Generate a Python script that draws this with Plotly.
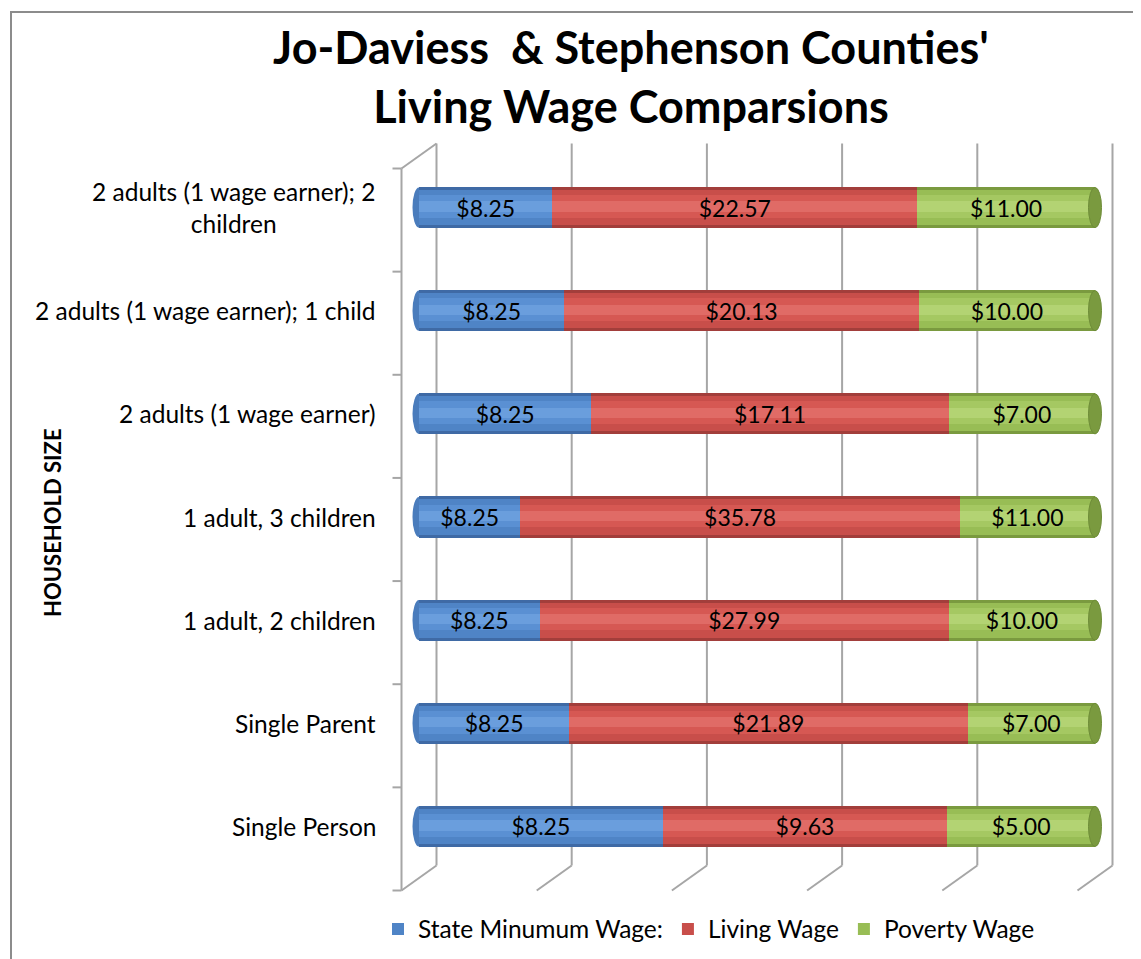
import plotly.graph_objects as go

# ---- data ----
categories = [
    "Single Person",
    "Single Parent",
    "1 adult, 2 children",
    "1 adult, 3 children",
    "2 adults (1 wage earner)",
    "2 adults (1 wage earner); 1 child",
    "2 adults (1 wage earner); 2 children",
]
category_labels = [
    "Single Person",
    "Single Parent",
    "1 adult, 2 children",
    "1 adult, 3 children",
    "2 adults (1 wage earner)",
    "2 adults (1 wage earner); 1 child",
    "2 adults (1 wage earner); 2<br>children",
]
state_min_wage = [8.25, 8.25, 8.25, 8.25, 8.25, 8.25, 8.25]
living_wage = [9.63, 21.89, 27.99, 35.78, 17.11, 20.13, 22.57]
poverty_wage = [5.00, 7.00, 10.00, 11.00, 7.00, 10.00, 11.00]
series_names = ["State Minumum Wage:", "Living Wage", "Poverty Wage"]
x_ticks = [0, 20, 40, 60, 80, 100]

# ---- styling ----
W, H = 1141, 959
OFF = 8  # page body margin
L = 419 - OFF
T = 156 - OFF
R = W - (1095 - OFF)
B = H - (878 - OFF)
PW, PH = W - L - R, H - T - B
FONT = "Lato, Carlito, Calibri, 'Open Sans', sans-serif"
shade_sets = [
    ["#3F6AA5", "#A23E3B", "#7A9A3F"],   # edge
    ["#4F84C6", "#C84E4A", "#98BD55"],   # body
    ["#5A90D3", "#D65853", "#A5C862"],   # light
    ["#6A9EDD", "#E06B66", "#B3D373"],   # highlight
]
layer_geom = [(0.40, -0.20, False), (0.34, -0.17, True), (0.22, -0.10, False), (0.10, -0.04, False)]
cap_right_color = "#7A9A3F"
cap_left_color = "#4A7CBC"
grid_color = "#A6A6A6"

series = [state_min_wage, living_wage, poverty_wage]

fig = go.Figure()

axes_names = ["y", "y2", "y3", "y4"]
for ax, cols, (wd, off, leg) in zip(axes_names, shade_sets, layer_geom):
    for name, vals, col in zip(series_names, series, cols):
        fig.add_trace(go.Bar(
            y=categories, x=vals, orientation="h", name=name,
            marker=dict(color=col, line=dict(width=0)),
            width=wd, offset=off,
            showlegend=leg, hoverinfo="skip", yaxis=ax, xaxis="x",
        ))
# transparent label layer
for name, vals in zip(series_names, series):
    fig.add_trace(go.Bar(
        y=categories, x=vals, orientation="h", name=name,
        marker=dict(color="rgba(0,0,0,0)", line=dict(width=0)),
        width=0.40, offset=-0.20,
        text=[f"${v:.2f}" for v in vals],
        textposition="inside", insidetextanchor="middle", textangle=0,
        constraintext="none",
        textfont=dict(family=FONT, size=23, color="black"),
        showlegend=False, hoverinfo="skip", yaxis="y5", xaxis="x",
    ))

# ---- 3D-like walls and gridlines ----
dx = 17.5 / PW   # depth offset (paper units)
dy = 12.5 / PH
xr = [x_ticks[0], x_ticks[-1]]
shapes = []
line = dict(color=grid_color, width=2)


def px(v):
    return (v - xr[0]) / (xr[1] - xr[0])


for v in x_ticks:
    xb = px(v) + dx
    xf = px(v) - dx
    shapes.append(dict(type="line", xref="paper", yref="paper", x0=xb, x1=xb,
                       y0=dy, y1=1 + dy, line=line, layer="below"))
    shapes.append(dict(type="line", xref="paper", yref="paper", x0=xb, x1=xf,
                       y0=dy, y1=-dy, line=line, layer="below"))
# left wall
x_lw = px(xr[0]) - dx
shapes.append(dict(type="line", xref="paper", yref="paper", x0=x_lw, x1=x_lw,
                   y0=-dy, y1=1 - dy, line=line, layer="below"))
shapes.append(dict(type="line", xref="paper", yref="paper", x0=x_lw, x1=px(xr[0]) + dx,
                   y0=1 - dy, y1=1 + dy, line=line, layer="below"))
n = len(categories)
for k in range(n + 1):
    yk = k / n - dy
    shapes.append(dict(type="line", xref="paper", yref="paper", x0=x_lw - 9 / PW, x1=x_lw,
                       y0=yk, y1=yk, line=line, layer="below"))

# cylinder end caps
cap_w = 6.5 / PW
for k in range(n):
    shapes.append(dict(type="circle", xref="paper", yref="y",
                       x0=px(xr[0]) - cap_w, x1=px(xr[0]) + cap_w,
                       y0=k - 0.195, y1=k + 0.195,
                       fillcolor=cap_left_color, line=dict(width=0), layer="below"))
    shapes.append(dict(type="circle", xref="paper", yref="y",
                       x0=px(xr[1]) - cap_w, x1=px(xr[1]) + cap_w,
                       y0=k - 0.195, y1=k + 0.195,
                       fillcolor=cap_right_color, line=dict(color="#6E8C38", width=1),
                       layer="above"))

# outer chart border (left & top edges visible)
bx0 = (11 - OFF - L) / PW
by1 = 1 + (T - (12 - OFF)) / PH
shapes.append(dict(type="rect", xref="paper", yref="paper",
                   x0=bx0, x1=1 + (R + 20) / PW,
                   y0=-(B + 20) / PH, y1=by1,
                   line=dict(color="#8C8C8C", width=2), layer="below"))

# ---- category labels ----
annotations = []
for cat, lab in zip(categories, category_labels):
    annotations.append(dict(
        text=lab, xref="paper", yref="y", x=-41 / PW, y=cat,
        xanchor="right", yanchor="middle", align="center", showarrow=False,
        font=dict(family=FONT, size=24.5, color="black"),
    ))
annotations.append(dict(
    text="<b>HOUSEHOLD SIZE</b>", xref="paper", yref="paper",
    x=(52 - OFF - L) / PW, y=(H - B - (522 - OFF)) / PH, textangle=-90,
    xanchor="center", yanchor="middle", showarrow=False,
    font=dict(family=FONT, size=22, color="black"),
))

yaxis_common = dict(
    type="category", categoryorder="array", categoryarray=categories,
    showticklabels=False, showgrid=False, zeroline=False, showline=False,
    ticks="", range=[-0.5, n - 0.5],
)

fig.update_layout(
    width=W, height=H,
    margin=dict(l=L, r=R, t=T, b=B, pad=0),
    paper_bgcolor="white", plot_bgcolor="rgba(0,0,0,0)",
    barmode="stack", barnorm="percent",
    title=dict(
        text="<b>Jo-Daviess  &amp; Stephenson Counties'<br>Living Wage Comparsions</b>",
        x=(631 - OFF) / W, xanchor="center", xref="container",
        y=1 - (64 - OFF) / H, yanchor="middle", yref="container",
        font=dict(family=FONT, size=45, color="black"),
    ),
    xaxis=dict(range=xr, showticklabels=False, showgrid=False, zeroline=False,
               showline=False, ticks="", fixedrange=True),
    yaxis=dict(**yaxis_common),
    yaxis2=dict(**yaxis_common, overlaying="y"),
    yaxis3=dict(**yaxis_common, overlaying="y"),
    yaxis4=dict(**yaxis_common, overlaying="y"),
    yaxis5=dict(**yaxis_common, overlaying="y"),
    legend=dict(
        orientation="h", x=(709 - OFF - L) / PW, xanchor="center",
        y=(H - B - (929 - OFF)) / PH, yanchor="middle",
        font=dict(family=FONT, size=24.5, color="black"),
        bgcolor="rgba(0,0,0,0)", traceorder="normal",
    ),
    shapes=shapes,
    annotations=annotations,
    showlegend=True,
)

fig.write_html("out.html")
